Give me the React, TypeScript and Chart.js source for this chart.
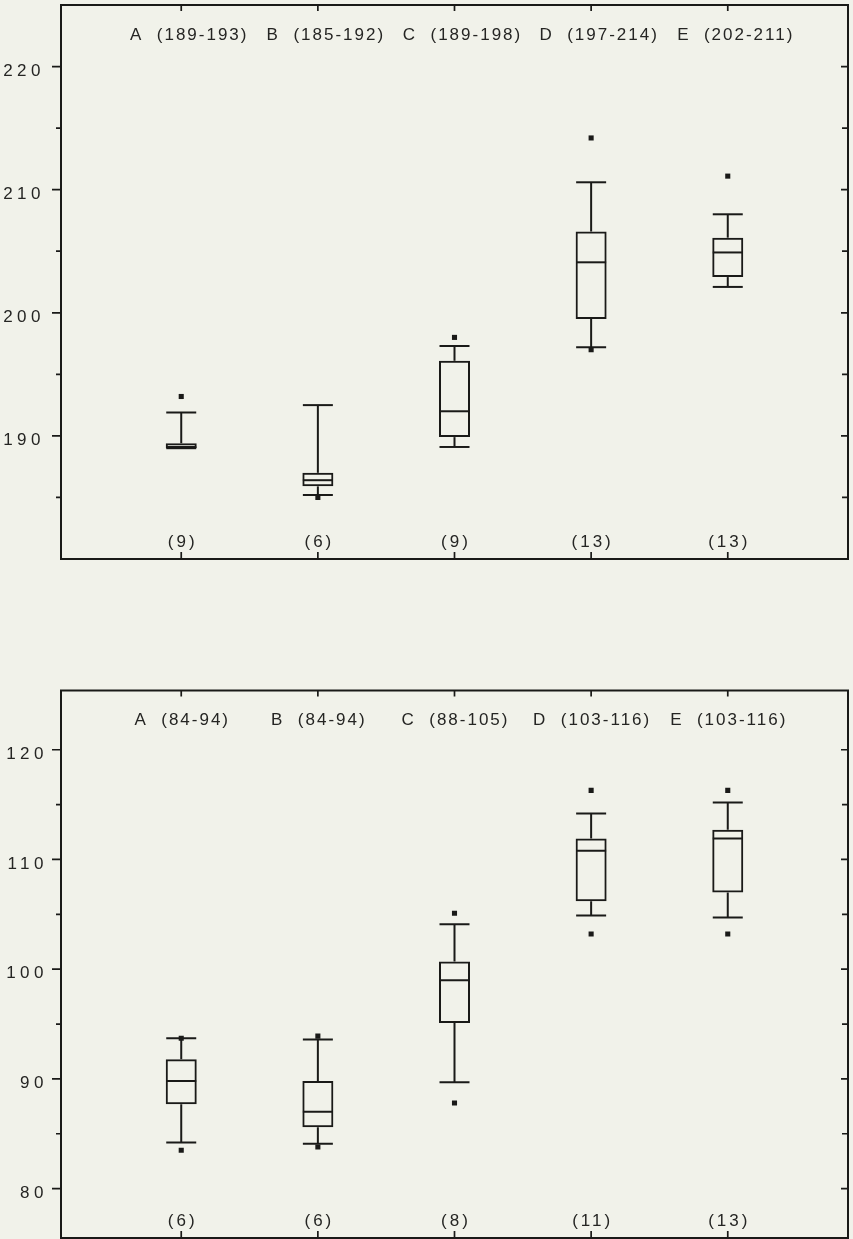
import { useEffect, useRef } from "react";
import { Chart, registerables } from "chart.js";

Chart.register(...registerables);

const INK = "#1a1a18";
const TEXT = "#252523";
const PAPER = "#f1f2ea";
const FONT = '"Liberation Sans", Arial, Helvetica, sans-serif';

const categories = ["A", "B", "C", "D", "E"];

// upper panel
const upperRanges = ["189-193", "185-192", "189-198", "197-214", "202-211"];
const upperCounts = ["9", "6", "9", "13", "13"];
const upperLow = [189.0, 185.2, 189.1, 197.2, 202.1];
const upperQ1 = [189.0, 185.9, 189.9, 199.5, 202.9];
const upperMedian = [189.1, 186.4, 192.0, 204.1, 204.9];
const upperQ3 = [189.4, 187.0, 196.1, 206.6, 206.1];
const upperHigh = [191.9, 192.5, 197.3, 210.6, 208.0];
const upperOutliers = [[193.2], [185.0], [198.0], [214.2, 197.0], [211.1]];
const upperMajorTicks = [190, 200, 210, 220];
const upperMinorTicks = [185, 195, 205, 215];

// lower panel
const lowerRanges = ["84-94", "84-94", "88-105", "103-116", "103-116"];
const lowerCounts = ["6", "6", "8", "11", "13"];
const lowerLow = [84.2, 84.1, 89.7, 104.9, 104.7];
const lowerQ1 = [87.7, 85.6, 95.1, 106.2, 107.0];
const lowerMedian = [89.8, 87.0, 99.0, 110.8, 111.9];
const lowerQ3 = [91.8, 89.8, 100.7, 111.9, 112.7];
const lowerHigh = [93.7, 93.6, 104.1, 114.2, 115.2];
const lowerOutliers = [[93.7, 83.5], [93.9, 83.8], [105.1, 87.8], [116.3, 103.2], [116.3, 103.2]];
const lowerMajorTicks = [80, 90, 100, 110, 120];
const lowerMinorTicks = [85, 95, 105, 115];

interface PanelProps {
  ranges: string[];
  counts: string[];
  low: number[];
  q1: number[];
  median: number[];
  q3: number[];
  high: number[];
  outliers: number[][];
  majorTicks: number[];
  minorTicks: number[];
  yMin: number;
  yMax: number;
  top: number;
  height: number;
  padTop: number;
  padBottom: number;
  labelPad: number;
  headerShift: number;
}

function BoxPanel(props: PanelProps) {
  const canvasRef = useRef<HTMLCanvasElement>(null);

  useEffect(() => {
    if (!canvasRef.current) return;
    const { ranges, counts, low, q1, median, q3, high, outliers, majorTicks, minorTicks } = props;
    const xs = categories.map((_, i) => i);

    // frame, inner/outer ticks and the text rows inside the frame
    const framePlugin = {
      id: "frame",
      beforeDraw(chart: Chart) {
        (chart.ctx as any).letterSpacing = "4.5px";
      },
      beforeDatasetsDraw(chart: Chart) {
        (chart.ctx as any).letterSpacing = "0px";
      },
      afterDraw(chart: Chart) {
        const { ctx, chartArea: a, scales } = chart;
        const xS = scales.x;
        const yS = scales.y;
        ctx.save();
        ctx.strokeStyle = INK;
        ctx.lineWidth = 2;
        ctx.strokeRect(a.left, a.top, a.right - a.left, a.bottom - a.top);
        ctx.lineWidth = 1.7;
        ctx.beginPath();
        for (const v of majorTicks) {
          const py = yS.getPixelForValue(v);
          ctx.moveTo(a.left - 9, py);
          ctx.lineTo(a.left, py);
          ctx.moveTo(a.right - 7, py);
          ctx.lineTo(a.right, py);
        }
        for (const v of minorTicks) {
          const py = yS.getPixelForValue(v);
          ctx.moveTo(a.left - 5, py);
          ctx.lineTo(a.left, py);
          ctx.moveTo(a.right - 6, py);
          ctx.lineTo(a.right, py);
        }
        for (const i of xs) {
          const px = xS.getPixelForValue(i);
          ctx.moveTo(px, a.top);
          ctx.lineTo(px, a.top + 6);
          ctx.moveTo(px, a.bottom - 7);
          ctx.lineTo(px, a.bottom);
        }
        ctx.stroke();

        ctx.fillStyle = TEXT;
        ctx.font = `17px ${FONT}`;
        ctx.textAlign = "center";
        ctx.textBaseline = "alphabetic";
        (ctx as any).letterSpacing = "2px";
        xs.forEach((i) => {
          ctx.fillText(
            `${categories[i]}  (${ranges[i]})`,
            xS.getPixelForValue(i) + 1 + props.headerShift,
            a.top + 34.5
          );
        });
        (ctx as any).letterSpacing = "3px";
        xs.forEach((i) => {
          ctx.fillText(`(${counts[i]})`, xS.getPixelForValue(i) + 1.5, a.bottom - 12);
        });
        ctx.restore();
      },
    };

    const chart = new Chart(canvasRef.current, {
      type: "bar",
      data: {
        datasets: [
          {
            type: "scatter" as const,
            label: "outliers",
            data: xs.flatMap((i) => outliers[i].map((v) => ({ x: i, y: v }))),
            pointStyle: "rect",
            pointRadius: 3.6,
            pointBackgroundColor: INK,
            pointBorderWidth: 0,
          },
          {
            type: "scatter" as const,
            label: "median",
            data: xs.map((i) => ({ x: i, y: median[i] })),
            pointStyle: "line",
            pointRadius: 15,
            pointBorderColor: INK,
            pointBorderWidth: 2,
          },
          {
            type: "scatter" as const,
            label: "caps",
            data: xs.flatMap((i) => [
              { x: i, y: low[i] },
              { x: i, y: high[i] },
            ]),
            pointStyle: "line",
            pointRadius: 15,
            pointBorderColor: INK,
            pointBorderWidth: 2,
          },
          {
            type: "bar" as const,
            label: "box",
            data: xs.map((i) => ({ x: i, y: [q1[i], q3[i]] })) as any,
            backgroundColor: "rgba(0,0,0,0)",
            borderColor: INK,
            borderWidth: 2,
            borderSkipped: false,
            grouped: false,
            maxBarThickness: 31,
          },
          {
            type: "bar" as const,
            label: "lower whisker",
            data: xs.map((i) => ({ x: i, y: [low[i], q1[i]] })) as any,
            backgroundColor: INK,
            borderWidth: 0,
            grouped: false,
            maxBarThickness: 2,
          },
          {
            type: "bar" as const,
            label: "upper whisker",
            data: xs.map((i) => ({ x: i, y: [q3[i], high[i]] })) as any,
            backgroundColor: INK,
            borderWidth: 0,
            grouped: false,
            maxBarThickness: 2,
          },
        ] as any,
      },
      options: {
        animation: false,
        responsive: true,
        maintainAspectRatio: false,
        layout: {
          autoPadding: false,
          padding: { top: props.padTop, bottom: props.padBottom, left: 0, right: 5 },
        },
        plugins: {
          legend: { display: false },
          tooltip: { enabled: false },
        },
        scales: {
          x: {
            type: "linear",
            display: false,
            offset: false,
            min: -0.88,
            max: 4.88,
            afterBuildTicks: (s: any) => {
              s.ticks = xs.map((v) => ({ value: v }));
            },
          },
          y: {
            type: "linear",
            min: props.yMin,
            max: props.yMax,
            beginAtZero: false,
            afterBuildTicks: (s: any) => {
              s.ticks = majorTicks.map((v) => ({ value: v }));
            },
            afterFit: (s: any) => {
              s.width = 61;
              s.paddingTop = 0;
              s.paddingBottom = 0;
            },
            grid: { display: false, drawTicks: false },
            border: { display: false },
            ticks: {
              color: TEXT,
              font: { family: FONT, size: 17 },
              padding: props.labelPad,
              labelOffset: 4.5,
              autoSkip: false,
              callback: (v: any) => String(v),
            },
          },
        },
      },
      plugins: [framePlugin as any],
    });

    return () => chart.destroy();
  }, [props]);

  return (
    <div style={{ position: "absolute", left: 0, top: props.top, width: 853, height: props.height }}>
      <canvas ref={canvasRef} />
    </div>
  );
}

export default function App() {
  return (
    <div
      style={{
        position: "absolute",
        left: 0,
        top: 0,
        width: 853,
        height: 1239,
        background: PAPER,
        overflow: "hidden",
      }}
    >
      <BoxPanel
        ranges={upperRanges}
        counts={upperCounts}
        low={upperLow}
        q1={upperQ1}
        median={upperMedian}
        q3={upperQ3}
        high={upperHigh}
        outliers={upperOutliers}
        majorTicks={upperMajorTicks}
        minorTicks={upperMinorTicks}
        yMin={180}
        yMax={225}
        top={0}
        height={566}
        padTop={5}
        padBottom={7}
        labelPad={16}
        headerShift={7}
      />
      <BoxPanel
        ranges={lowerRanges}
        counts={lowerCounts}
        low={lowerLow}
        q1={lowerQ1}
        median={lowerMedian}
        q3={lowerQ3}
        high={lowerHigh}
        outliers={lowerOutliers}
        majorTicks={lowerMajorTicks}
        minorTicks={lowerMinorTicks}
        yMin={75.5}
        yMax={125.4}
        top={685}
        height={554}
        padTop={5.5}
        padBottom={1}
        labelPad={13}
        headerShift={0}
      />
    </div>
  );
}
